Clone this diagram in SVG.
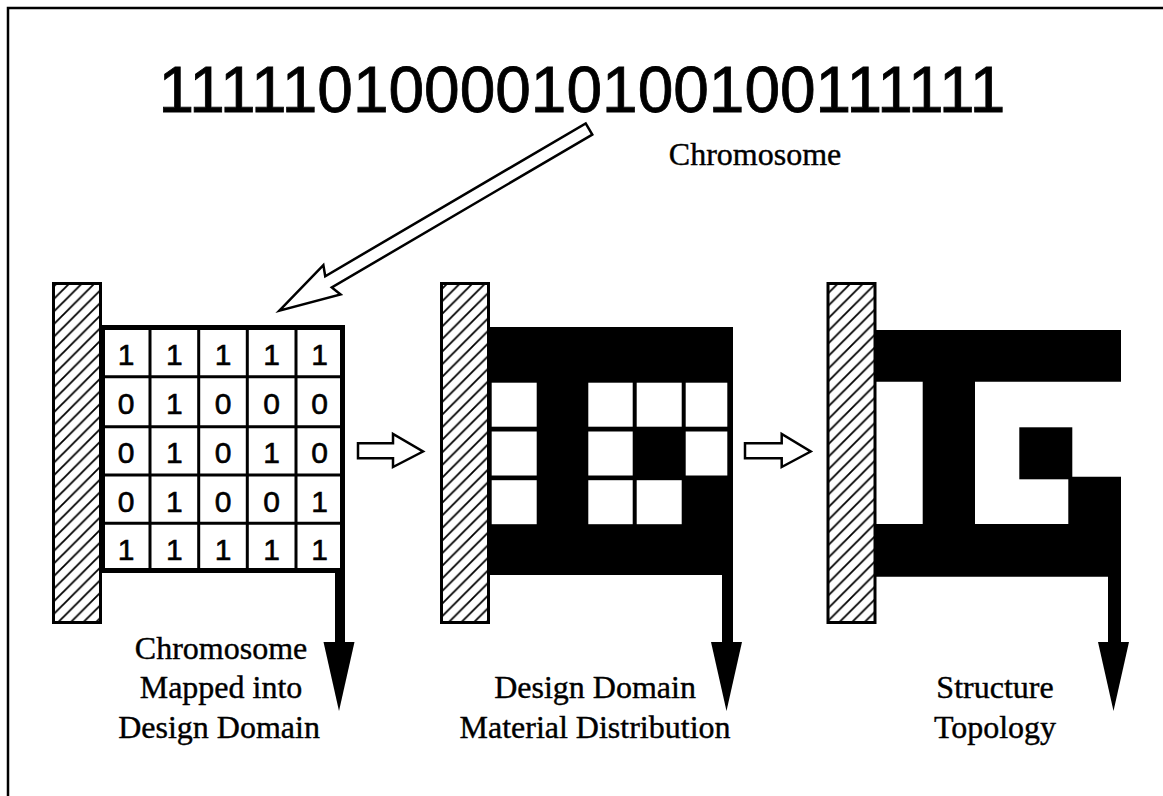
<svg xmlns="http://www.w3.org/2000/svg" width="1163" height="796" viewBox="0 0 1163 796">
<defs>
<pattern id="hatch" patternUnits="userSpaceOnUse" width="12.6" height="12.6">
<path d="M-3.15,3.15 L3.15,-3.15 M0,12.6 L12.6,0 M9.45,15.75 L15.75,9.45" stroke="#000" stroke-width="1.8"/>
</pattern>
<style>
.hatch{fill:url(#hatch);stroke:#000;stroke-width:3}
.dig{font-family:"Liberation Sans",Arial,sans-serif;fill:#000;stroke:#000;stroke-width:0.8}
.cell{font-family:"Liberation Sans",Arial,sans-serif;font-size:30px;fill:#000;stroke:#000;stroke-width:0.6;text-anchor:middle}
.lbl{font-family:"Liberation Serif","Times New Roman",serif;font-size:32px;fill:#000;stroke:#000;stroke-width:0.4;text-anchor:middle}
.hollow{fill:#fff;stroke:#000;stroke-width:2.5;stroke-linejoin:miter}
.blk{fill:#000}
.wht{fill:#fff}
.frame{fill:none;stroke:#000;stroke-width:5}
.gl{fill:none;stroke:#000;stroke-width:3}
</style>
</defs>
<rect x="0" y="0" width="1163" height="796" fill="#fff"/>
<path d="M8,796 V8 H1163" fill="none" stroke="#000" stroke-width="2.5"/>

<g id="chromosome">
<text class="dig" x="158.4" y="112" font-size="65" textLength="847" lengthAdjust="spacingAndGlyphs">1111101000010100100111111</text>
<text class="lbl" x="755" y="165" font-size="31">Chromosome</text>
</g>

<g id="connectors">
<polygon class="hollow" transform="translate(589,129) rotate(149.6)" points="0,-6.5 302,-6.5 298,-17 359,0 298,17 302,6.5 0,6.5"/>
<polygon class="hollow" points="358,443.3 393,443.3 393,434 423,451.5 393,467 393,458.3 358,458.3"/>
<polygon class="hollow" points="745,443.3 781.7,443.3 781.7,434 810.7,451.5 781.7,467 781.7,458.3 745,458.3"/>
<rect class="blk" x="335" y="572" width="10" height="72"/>
<polygon class="blk" points="323.5,642 354.5,642 339,711"/>
<rect class="blk" x="722" y="574" width="11" height="70"/>
<polygon class="blk" points="711,642 742,642 726.5,711"/>
<rect class="blk" x="1108" y="575" width="13" height="69"/>
<polygon class="blk" points="1098,642 1129,642 1113.5,711"/>
</g>

<g id="domain1">
<rect class="hatch" x="53.5" y="283.5" width="47" height="339"/>
<rect class="frame" x="102.5" y="327.5" width="240" height="243"/>
<path class="gl" d="M150,327.5 V570.5 M198.7,327.5 V570.5 M247.3,327.5 V570.5 M296,327.5 V570.5 M102.5,376.7 H342.5 M102.5,426.7 H342.5 M102.5,475 H342.5 M102.5,523.3 H342.5"/>
<g class="cell">
<text x="126" y="365">1</text><text x="174.4" y="365">1</text><text x="223" y="365">1</text><text x="271.7" y="365">1</text><text x="319.5" y="365">1</text>
<text x="126" y="414">0</text><text x="174.4" y="414">1</text><text x="223" y="414">0</text><text x="271.7" y="414">0</text><text x="319.5" y="414">0</text>
<text x="126" y="463">0</text><text x="174.4" y="463">1</text><text x="223" y="463">0</text><text x="271.7" y="463">1</text><text x="319.5" y="463">0</text>
<text x="126" y="511.5">0</text><text x="174.4" y="511.5">1</text><text x="223" y="511.5">0</text><text x="271.7" y="511.5">0</text><text x="319.5" y="511.5">1</text>
<text x="126" y="560">1</text><text x="174.4" y="560">1</text><text x="223" y="560">1</text><text x="271.7" y="560">1</text><text x="319.5" y="560">1</text>
</g>
<text class="lbl" x="221" y="659">Chromosome</text>
<text class="lbl" x="221" y="698">Mapped into</text>
<text class="lbl" x="219" y="738">Design Domain</text>
</g>

<g id="domain2">
<rect class="hatch" x="441.5" y="283.5" width="47" height="339"/>
<rect class="blk" x="488" y="327" width="245" height="248"/>
<g class="wht">
<rect x="491.7" y="382.7" width="45" height="44"/>
<rect x="588.3" y="382.7" width="44.4" height="44"/>
<rect x="636.7" y="382.7" width="45" height="44"/>
<rect x="685.7" y="382.7" width="41.6" height="44"/>
<rect x="491.7" y="431.5" width="45" height="44"/>
<rect x="588.3" y="431.5" width="44.4" height="44"/>
<rect x="685.7" y="431.5" width="41.6" height="44"/>
<rect x="491.7" y="480.2" width="45" height="44"/>
<rect x="588.3" y="480.2" width="44.4" height="44"/>
<rect x="636.7" y="480.2" width="45" height="44"/>
</g>
<text class="lbl" x="595" y="698">Design Domain</text>
<text class="lbl" x="595" y="738">Material Distribution</text>
</g>

<g id="domain3">
<rect class="hatch" x="828" y="283.5" width="47" height="339"/>
<path class="blk" d="M876,330 H1121 V381.7 H975 V524 H1068.3 V476.7 H1121 V576.7 H876 V524 H922.7 V381.7 H876 Z"/>
<rect class="blk" x="1019.3" y="427.3" width="53" height="52"/>
<text class="lbl" x="995" y="698">Structure</text>
<text class="lbl" x="995" y="738">Topology</text>
</g>
</svg>
